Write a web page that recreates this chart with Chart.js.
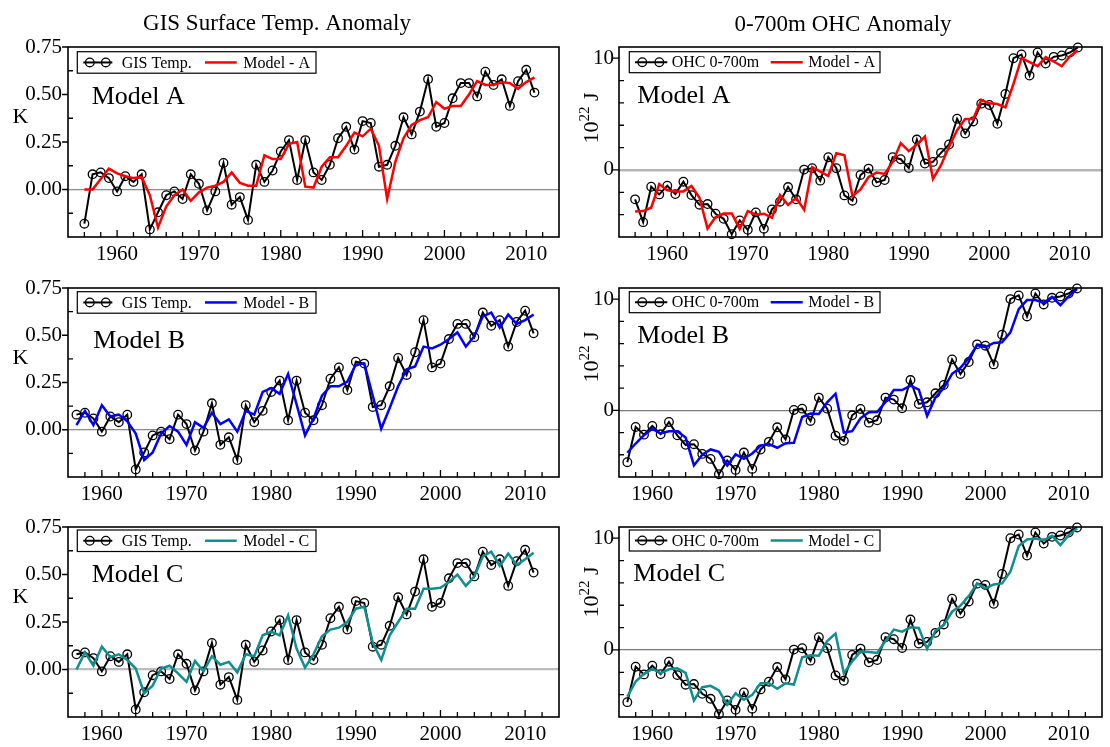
<!DOCTYPE html>
<html><head><meta charset="utf-8">
<script src="https://cdn.jsdelivr.net/npm/chart.js@4.4.1/dist/chart.umd.min.js"></script>
<style>
html,body{margin:0;padding:0;background:#fff;}
#wrap{position:relative;width:1110px;height:747px;overflow:hidden;background:#fff;}
canvas{position:absolute;}
</style></head><body><div id="wrap"></div>
<script>
// ---------- DATA ----------
const years = [1956,1957,1958,1959,1960,1961,1962,1963,1964,1965,
  1966,1967,1968,1969,1970,1971,1972,1973,1974,1975,
  1976,1977,1978,1979,1980,1981,1982,1983,1984,1985,
  1986,1987,1988,1989,1990,1991,1992,1993,1994,1995,
  1996,1997,1998,1999,2000,2001,2002,2003,2004,2005,
  2006,2007,2008,2009,2010,2011];
const yearsFrom1957 = years.slice(1);

const gisTemp = [-0.18,0.08,0.09,0.06,-0.01,0.07,0.04,0.08,-0.21,-0.12,
  -0.03,-0.01,-0.05,0.08,0.03,-0.11,-0.01,0.14,-0.08,-0.04,
  -0.16,0.13,0.04,0.10,0.20,0.26,0.05,0.26,0.09,0.05,
  0.13,0.27,0.33,0.21,0.36,0.35,0.12,0.13,0.23,0.38,
  0.29,0.41,0.58,0.33,0.35,0.48,0.56,0.56,0.49,0.62,
  0.55,0.58,0.44,0.57,0.63,0.51];

const modelA_T = [0.00,0.00,0.055,0.11,0.085,0.07,0.06,0.065,-0.03,-0.20,
  -0.09,-0.03,0.00,-0.06,-0.015,0.01,0.02,0.04,0.09,0.035,
  0.02,0.02,0.18,0.16,0.16,0.24,0.25,0.015,0.01,0.12,
  0.17,0.17,0.23,0.30,0.28,0.32,0.23,-0.05,0.145,0.27,
  0.34,0.365,0.38,0.46,0.425,0.44,0.44,0.50,0.57,0.55,
  0.55,0.565,0.56,0.53,0.565,0.59];

const modelB_T = [0.025,0.10,0.025,0.13,0.07,0.08,0.045,-0.02,-0.16,-0.12,
  -0.02,0.02,-0.01,-0.08,0.04,0.01,0.09,0.03,0.055,-0.01,
  0.10,0.08,0.20,0.22,0.19,0.295,0.135,-0.03,0.06,0.18,
  0.23,0.23,0.255,0.345,0.35,0.18,0.005,0.115,0.23,0.32,
  0.335,0.44,0.43,0.45,0.48,0.515,0.44,0.495,0.60,0.62,
  0.54,0.61,0.56,0.58,0.61];

const modelC_T = [0.00,0.09,0.02,0.12,0.065,0.08,0.05,0.005,-0.125,-0.085,
  0.005,0.02,-0.02,-0.065,0.045,-0.01,0.07,0.025,0.04,-0.015,
  0.08,0.07,0.18,0.20,0.18,0.285,0.11,0.01,0.08,0.175,
  0.21,0.22,0.25,0.32,0.33,0.14,0.05,0.18,0.25,0.32,
  0.32,0.425,0.425,0.43,0.46,0.50,0.44,0.49,0.595,0.62,
  0.545,0.61,0.55,0.58,0.615];

const ohc700 = [-2.63,-4.67,-1.50,-2.19,-1.41,-2.16,-1.05,-2.25,-3.11,-3.05,
  -3.92,-4.37,-5.75,-4.52,-5.36,-3.80,-5.27,-3.53,-2.84,-1.53,
  -2.63,0.03,0.15,-0.96,1.14,0.15,-2.28,-2.75,-0.45,0.12,
  -1.11,-0.90,1.14,0.96,0.18,2.72,0.57,0.72,1.53,2.28,
  4.58,3.26,4.34,5.93,5.81,4.13,6.80,10.0,10.33,8.44,
  10.51,9.52,10.12,10.24,10.51,10.96];

const modelA_OHC = [-3.71,-3.68,-3.38,-1.26,-1.83,-1.92,-1.92,-1.44,-2.49,-5.24,
  -4.22,-3.89,-3.89,-5.27,-3.68,-4.01,-3.92,-4.28,-2.25,-3.14,
  -2.49,-3.56,0.24,-0.15,-0.54,1.50,1.32,-2.34,-1.74,-0.63,
  -0.24,-0.36,0.72,2.40,1.68,2.28,2.99,-0.81,0.42,2.07,
  3.56,4.55,4.55,6.26,5.96,5.90,5.60,7.69,10.0,9.64,
  9.28,10.09,9.70,9.28,10.15,10.69];

const modelB_OHC = [-3.82,-2.99,-2.24,-1.67,-2.09,-1.88,-1.88,-2.45,-4.96,-4.00,
  -3.52,-3.73,-4.96,-3.97,-4.36,-3.88,-3.19,-3.04,-3.37,-2.96,
  -2.93,-0.60,-0.30,-0.33,0.72,1.49,-2.00,-1.88,-0.72,-0.18,
  -0.15,0.75,1.82,1.82,2.21,1.85,-0.51,1.16,2.00,3.28,
  3.82,4.69,5.85,5.67,6.06,6.12,7.01,9.10,9.91,9.91,
  9.67,10.21,9.46,10.24,10.90];

const modelC_OHC = [-4.17,-2.83,-2.14,-1.70,-2.08,-1.73,-1.64,-2.05,-4.52,-3.33,
  -3.21,-3.63,-4.91,-3.87,-4.46,-4.02,-2.98,-2.98,-3.48,-2.98,
  -3.10,-0.65,-0.48,-0.51,0.80,1.46,-2.08,-1.04,-0.15,-0.18,
  -0.27,0.80,1.82,1.64,2.02,1.96,0.09,1.73,2.23,3.42,
  3.96,4.82,5.95,5.51,5.86,5.95,7.00,9.29,9.88,9.97,
  9.82,10.21,9.38,10.27,10.86];

const decadeTicks = [1960,1970,1980,1990,2000,2010];
const minorYearTicks = [1956,1958,1962,1964,1966,1968,1972,1974,1976,1978,1982,1984,1986,1988,1992,1994,1996,1998,2002,2004,2006,2008,2012];
const tempTicks = [0,0.25,0.5,0.75];
const tempMinorTicks = [-0.125,0.125,0.375,0.625];
const ohcTicks = [0,10];
const ohcMinorTicks = [-4,-2,2,4,6,8];

// ---------- DRAWING ----------
const FONT = "'Liberation Serif','Times New Roman',serif";
const wrap = document.getElementById('wrap');

const deco = {
  id: 'deco',
  afterDraw(chart, args, o) {
    const {ctx, chartArea: a} = chart;
    const xs = chart.scales.x, ys = chart.scales.y;
    ctx.save();
    ctx.strokeStyle = '#000';
    ctx.lineWidth = 1.3;
    ctx.beginPath();
    o.xMajor.forEach(v => { const p = xs.getPixelForValue(v); ctx.moveTo(p, a.bottom); ctx.lineTo(p, a.bottom - 7); });
    o.xMinor.forEach(v => { if (v <= xs.min || v >= xs.max) return; const p = xs.getPixelForValue(v); ctx.moveTo(p, a.bottom); ctx.lineTo(p, a.bottom - 5); });
    o.yMajor.forEach(v => { const p = ys.getPixelForValue(v); ctx.moveTo(a.left - 6, p); ctx.lineTo(a.left, p); });
    o.yMinor.forEach(v => { const p = ys.getPixelForValue(v); ctx.moveTo(a.left, p); ctx.lineTo(a.left + 5, p); });
    ctx.stroke();
    ctx.lineWidth = 1.6;
    ctx.strokeRect(a.left, a.top, a.right - a.left, a.bottom - a.top);

    // legend
    const L = o.legend;
    const bx = a.left + L.dx, by = a.top + L.dy, cy = by + L.h / 2;
    ctx.fillStyle = '#fff'; ctx.fillRect(bx, by, L.w, L.h);
    ctx.lineWidth = 1.2; ctx.strokeStyle = '#000'; ctx.strokeRect(bx, by, L.w, L.h);
    ctx.lineWidth = 2; ctx.beginPath(); ctx.moveTo(bx + L.s0, cy); ctx.lineTo(bx + L.s1, cy); ctx.stroke();
    ctx.lineWidth = 1.3;
    [L.c0, L.c1].forEach(c => { ctx.beginPath(); ctx.arc(bx + c, cy, 4.3, 0, Math.PI * 2); ctx.stroke(); });
    ctx.font = '16px ' + FONT; ctx.fillStyle = '#000'; ctx.textAlign = 'left'; ctx.textBaseline = 'middle';
    ctx.fillText(o.obsLabel, bx + L.t1, cy + 1);
    ctx.strokeStyle = o.color; ctx.lineWidth = 2.5;
    ctx.beginPath(); ctx.moveTo(bx + L.m0, cy); ctx.lineTo(bx + L.m1, cy); ctx.stroke();
    ctx.fillText(o.modelLabel, bx + L.t2, cy + 1);

    // model name
    ctx.font = '26px ' + FONT; ctx.textBaseline = 'alphabetic';
    ctx.fillText(o.name, a.left + o.nameDx, a.top + o.nameDy);

    // y axis title
    if (o.axis === 'K') {
      ctx.font = '22px ' + FONT; ctx.textAlign = 'center'; ctx.textBaseline = 'middle';
      ctx.fillText('K', a.left - 47.5, a.top + 70);
    } else {
      ctx.translate(a.left - 21.5, a.top + o.axDy);
      ctx.rotate(-Math.PI / 2);
      ctx.textAlign = 'left'; ctx.textBaseline = 'alphabetic';
      ctx.font = '22px ' + FONT; const w1 = ctx.measureText('10').width; const w3 = ctx.measureText(' J').width;
      ctx.font = '15px ' + FONT; const w2 = ctx.measureText('22').width;
      const x0 = -(w1 + w2 + w3) / 2;
      ctx.font = '22px ' + FONT; ctx.fillText('10', x0, 0);
      ctx.font = '15px ' + FONT; ctx.fillText('22', x0 + w1, -9);
      ctx.font = '22px ' + FONT; ctx.fillText(' J', x0 + w1 + w2, 0);
      ctx.setTransform(1, 0, 0, 1, 0, 0);
    }
    ctx.restore();

    if (o.title) {
      ctx.save();
      ctx.font = '23px ' + FONT; ctx.fillStyle = '#000'; ctx.textAlign = 'center'; ctx.textBaseline = 'alphabetic';
      ctx.fillText(o.title.text, o.title.x, o.title.y);
      ctx.restore();
    }
  }
};

function panel(p) {
  const c = document.createElement('canvas');
  c.width = p.w; c.height = p.h;
  c.style.left = p.left + 'px'; c.style.top = p.top + 'px';
  wrap.appendChild(c);
  const isT = p.kind === 'T';
  new Chart(c, {
    type: 'line',
    data: {
      datasets: [
        { label: p.modelLabel, data: p.modelYears.map((yr, i) => ({x: yr, y: p.model[i]})),
          borderColor: p.color, borderWidth: 2.5, pointRadius: 0, tension: 0, clip: false },
        { label: p.obsLabel, data: p.obsYears.map((yr, i) => ({x: yr, y: p.obs[i]})),
          borderColor: '#000', borderWidth: 2, pointRadius: 4.3, pointBorderWidth: 1.3,
          pointBackgroundColor: 'rgba(0,0,0,0)', pointBorderColor: '#000', tension: 0, clip: false }
      ]
    },
    options: {
      responsive: false, animation: false, devicePixelRatio: 1,
      layout: { padding: { top: p.padTop, right: p.padRight, left: 0, bottom: 0 } },
      scales: {
        x: {
          type: 'linear', min: p.xmin, max: 2014,
          afterBuildTicks: s => { s.ticks = decadeTicks.map(v => ({value: v})); },
          afterFit: s => { s.height = p.xh; },
          ticks: { font: {family: FONT, size: 21}, color: '#000', padding: 5, maxRotation: 0, autoSkip: false, callback: v => String(v) },
          grid: { display: false, drawTicks: false },
          border: { display: false }
        },
        y: {
          min: isT ? -0.25 : -6, max: isT ? 0.75 : 11,
          afterBuildTicks: s => { s.ticks = (isT ? tempTicks : ohcTicks).map(v => ({value: v})); },
          afterFit: s => { s.width = p.yw; },
          ticks: { font: {family: FONT, size: 21}, color: '#000', padding: p.ypad, callback: v => isT ? v.toFixed(2) : String(v) },
          grid: { drawTicks: false,
            color: ctx => (ctx.tick && ctx.tick.value === 0) ? p.zeroColor : 'rgba(0,0,0,0)',
            lineWidth: ctx => (ctx.tick && ctx.tick.value === 0) ? p.zeroWidth : 1 },
          border: { display: false }
        }
      },
      plugins: {
        legend: { display: false }, tooltip: { enabled: false },
        deco: {
          xMajor: decadeTicks, xMinor: minorYearTicks,
          yMajor: isT ? tempTicks : ohcTicks, yMinor: isT ? tempMinorTicks : ohcMinorTicks,
          legend: p.legend, obsLabel: p.obsLabel, modelLabel: p.modelLabel, color: p.color,
          name: p.name, nameDx: p.nameDx, nameDy: p.nameDy,
          axis: isT ? 'K' : 'J', axDy: p.axDy, title: p.title
        }
      }
    },
    plugins: [deco]
  });
}

const legL = (dy) => ({dx: 9.3, dy: dy, w: 238.7, h: 21.5, s0: 6, s1: 35, c0: 12.5, c1: 28.5, t1: 44.4, m0: 127.7, m1: 159.4, t2: 166});
const legR = (dy) => ({dx: 10.3, dy: dy, w: 250.7, h: 21, s0: 5.7, s1: 38, c0: 13, c1: 30, t1: 42.4, m0: 141.4, m1: 173.4, t2: 179});

const rows = [
  {top: 0, h: 270, padTop: 47, xh: 33},
  {top: 262, h: 249, padTop: 26, xh: 34},
  {top: 502, h: 245, padTop: 25, xh: 30}
];
const L = {left: 0, w: 572, yw: 68, padRight: 13, ypad: 6};
const R = {left: 560, w: 550, yw: 59, padRight: 8, ypad: 5};

// Left column: GIS temperature
panel(Object.assign({}, L, rows[0], {kind: 'T', xmin: 1954, obsYears: years, obs: gisTemp, modelYears: years, model: modelA_T,
  color: '#ff0000', obsLabel: 'GIS Temp.', modelLabel: 'Model - A', name: 'Model A', nameDx: 23.7, nameDy: 57,
  legend: legL(4.7), zeroColor: '#8a8a8a', zeroWidth: 1.2, title: {text: 'GIS Surface Temp. Anomaly', x: 277, y: 30}}));
panel(Object.assign({}, L, rows[1], {kind: 'T', xmin: 1956, obsYears: yearsFrom1957, obs: gisTemp.slice(1), modelYears: yearsFrom1957, model: modelB_T,
  color: '#0000ff', obsLabel: 'GIS Temp.', modelLabel: 'Model - B', name: 'Model B', nameDx: 25.3, nameDy: 60,
  legend: legL(3.7), zeroColor: '#8a8a8a', zeroWidth: 1.2}));
panel(Object.assign({}, L, rows[2], {kind: 'T', xmin: 1956, obsYears: yearsFrom1957, obs: gisTemp.slice(1), modelYears: yearsFrom1957, model: modelC_T,
  color: '#0f8f8f', obsLabel: 'GIS Temp.', modelLabel: 'Model - C', name: 'Model C', nameDx: 23.7, nameDy: 55,
  legend: legL(3), zeroColor: '#bbbbbb', zeroWidth: 2.2}));

// Right column: ocean heat content
panel(Object.assign({}, R, rows[0], {kind: 'J', xmin: 1954, obsYears: years, obs: ohc700, modelYears: years, model: modelA_OHC,
  color: '#ff0000', obsLabel: 'OHC 0-700m', modelLabel: 'Model - A', name: 'Model A', nameDx: 18.3, nameDy: 56,
  legend: legR(4.7), zeroColor: '#b5b5b5', zeroWidth: 2.5, axDy: 71, title: {text: '0-700m OHC Anomaly', x: 283, y: 31}}));
panel(Object.assign({}, R, rows[1], {kind: 'J', xmin: 1956, obsYears: yearsFrom1957, obs: ohc700.slice(1), modelYears: yearsFrom1957, model: modelB_OHC,
  color: '#0000ff', obsLabel: 'OHC 0-700m', modelLabel: 'Model - B', name: 'Model B', nameDx: 18.3, nameDy: 55,
  legend: legR(3.7), zeroColor: '#7a7a7a', zeroWidth: 1.2, axDy: 69}));
panel(Object.assign({}, R, rows[2], {kind: 'J', xmin: 1956, obsYears: yearsFrom1957, obs: ohc700.slice(1), modelYears: yearsFrom1957, model: modelC_OHC,
  color: '#0f8f8f', obsLabel: 'OHC 0-700m', modelLabel: 'Model - C', name: 'Model C', nameDx: 14.3, nameDy: 54,
  legend: legR(3), zeroColor: '#7a7a7a', zeroWidth: 1.2, axDy: 65}));
</script>
</body></html>
